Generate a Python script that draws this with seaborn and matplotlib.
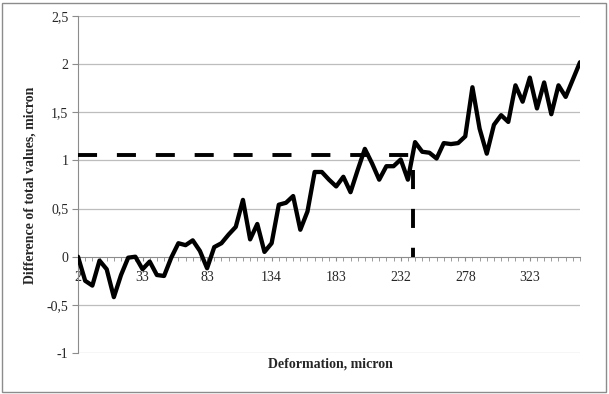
import matplotlib
matplotlib.use("Agg")
import matplotlib.pyplot as plt
import matplotlib.ticker as mticker
import numpy as np
import pandas as pd
import seaborn as sns
from matplotlib.patches import Rectangle

sns.set_style("white")
plt.rcParams['font.family'] = ['Liberation Serif', 'DejaVu Serif']

# measured differences, one value per deformation step
diff_values = [0.00, -0.25, -0.30, -0.04, -0.13, -0.42, -0.19, -0.01, 0.00, -0.13,
               -0.05, -0.19, -0.20, -0.01, 0.14, 0.12, 0.17, 0.06, -0.12, 0.10,
               0.14, 0.23, 0.31, 0.59, 0.18, 0.34, 0.05, 0.14, 0.54, 0.56,
               0.63, 0.28, 0.47, 0.88, 0.88, 0.80, 0.73, 0.83, 0.67, 0.90,
               1.12, 0.97, 0.80, 0.94, 0.94, 1.01, 0.80, 1.19, 1.09, 1.08,
               1.02, 1.18, 1.17, 1.18, 1.25, 1.76, 1.33, 1.07, 1.37, 1.47,
               1.40, 1.78, 1.61, 1.86, 1.54, 1.81, 1.48, 1.78, 1.66, 1.84,
               2.02]
tick_labels = ['2', '33', '83', '134', '183', '232', '278', '323']
label_step = 9
y_ticks = [-1, -0.5, 0, 0.5, 1, 1.5, 2, 2.5]
# reference point marked with the dashed guide
ref_step = 46.7
ref_value = 1.057

df = pd.DataFrame({'step': np.arange(len(diff_values)), 'diff': diff_values})

fig = plt.figure(figsize=(6.09, 3.94), dpi=100)
ax = fig.add_axes([78 / 609, 1 - 353 / 394, (580 - 78) / 609, (353 - 16) / 394])

for yv in y_ticks:
    if yv != 0:
        ax.axhline(yv, color='#bdbdbd', lw=0.9, zorder=0)

sns.lineplot(data=df, x='step', y='diff', color='black', lw=3.1, ax=ax, zorder=5,
             solid_joinstyle='round')
ax.plot([0, ref_step, ref_step], [ref_value, ref_value, 0], color='black', lw=2.8,
        linestyle=(0, (4.9, 5.1)), zorder=4)

ax.set_xlim(0, len(diff_values) - 1)
ax.set_ylim(-1, 2.5)
ax.set_yticks(y_ticks)
ax.yaxis.set_major_formatter(mticker.FuncFormatter(
    lambda v, p: ('%g' % v).replace('.', ',')))
ax.set_xticks(np.arange(len(tick_labels)) * label_step)
ax.set_xticklabels(tick_labels)
ax.set_xticks(np.arange(len(diff_values)), minor=True)

for s in ['top', 'right']:
    ax.spines[s].set_visible(False)
ax.spines['left'].set_color('#8c8c8c')
ax.spines['bottom'].set_color('#8c8c8c')
ax.spines['bottom'].set_position(('data', 0))
ax.tick_params(axis='y', which='major', direction='out', length=4, color='#8c8c8c',
               labelsize=10, pad=3, left=True)
ax.tick_params(axis='x', which='both', direction='out', length=3, color='#8c8c8c',
               labelsize=10, pad=7, bottom=True)

ax.set_xlabel('')
ax.set_ylabel('')
fig.text(330 / 609, 1 - 364 / 394, 'Deformation, micron', ha='center', va='center',
         fontsize=10, fontweight='bold')
fig.text(30 / 609, 1 - 185 / 394, 'Difference of total values, micron', ha='center',
         va='center', rotation=90, fontsize=10, fontweight='bold')

fig.patches.append(Rectangle((2 / 609, 2 / 394), 604 / 609, 389 / 394,
                             transform=fig.transFigure, fill=False,
                             edgecolor='#8c8c8c', lw=1))

fig.savefig('out.png', dpi=100)
